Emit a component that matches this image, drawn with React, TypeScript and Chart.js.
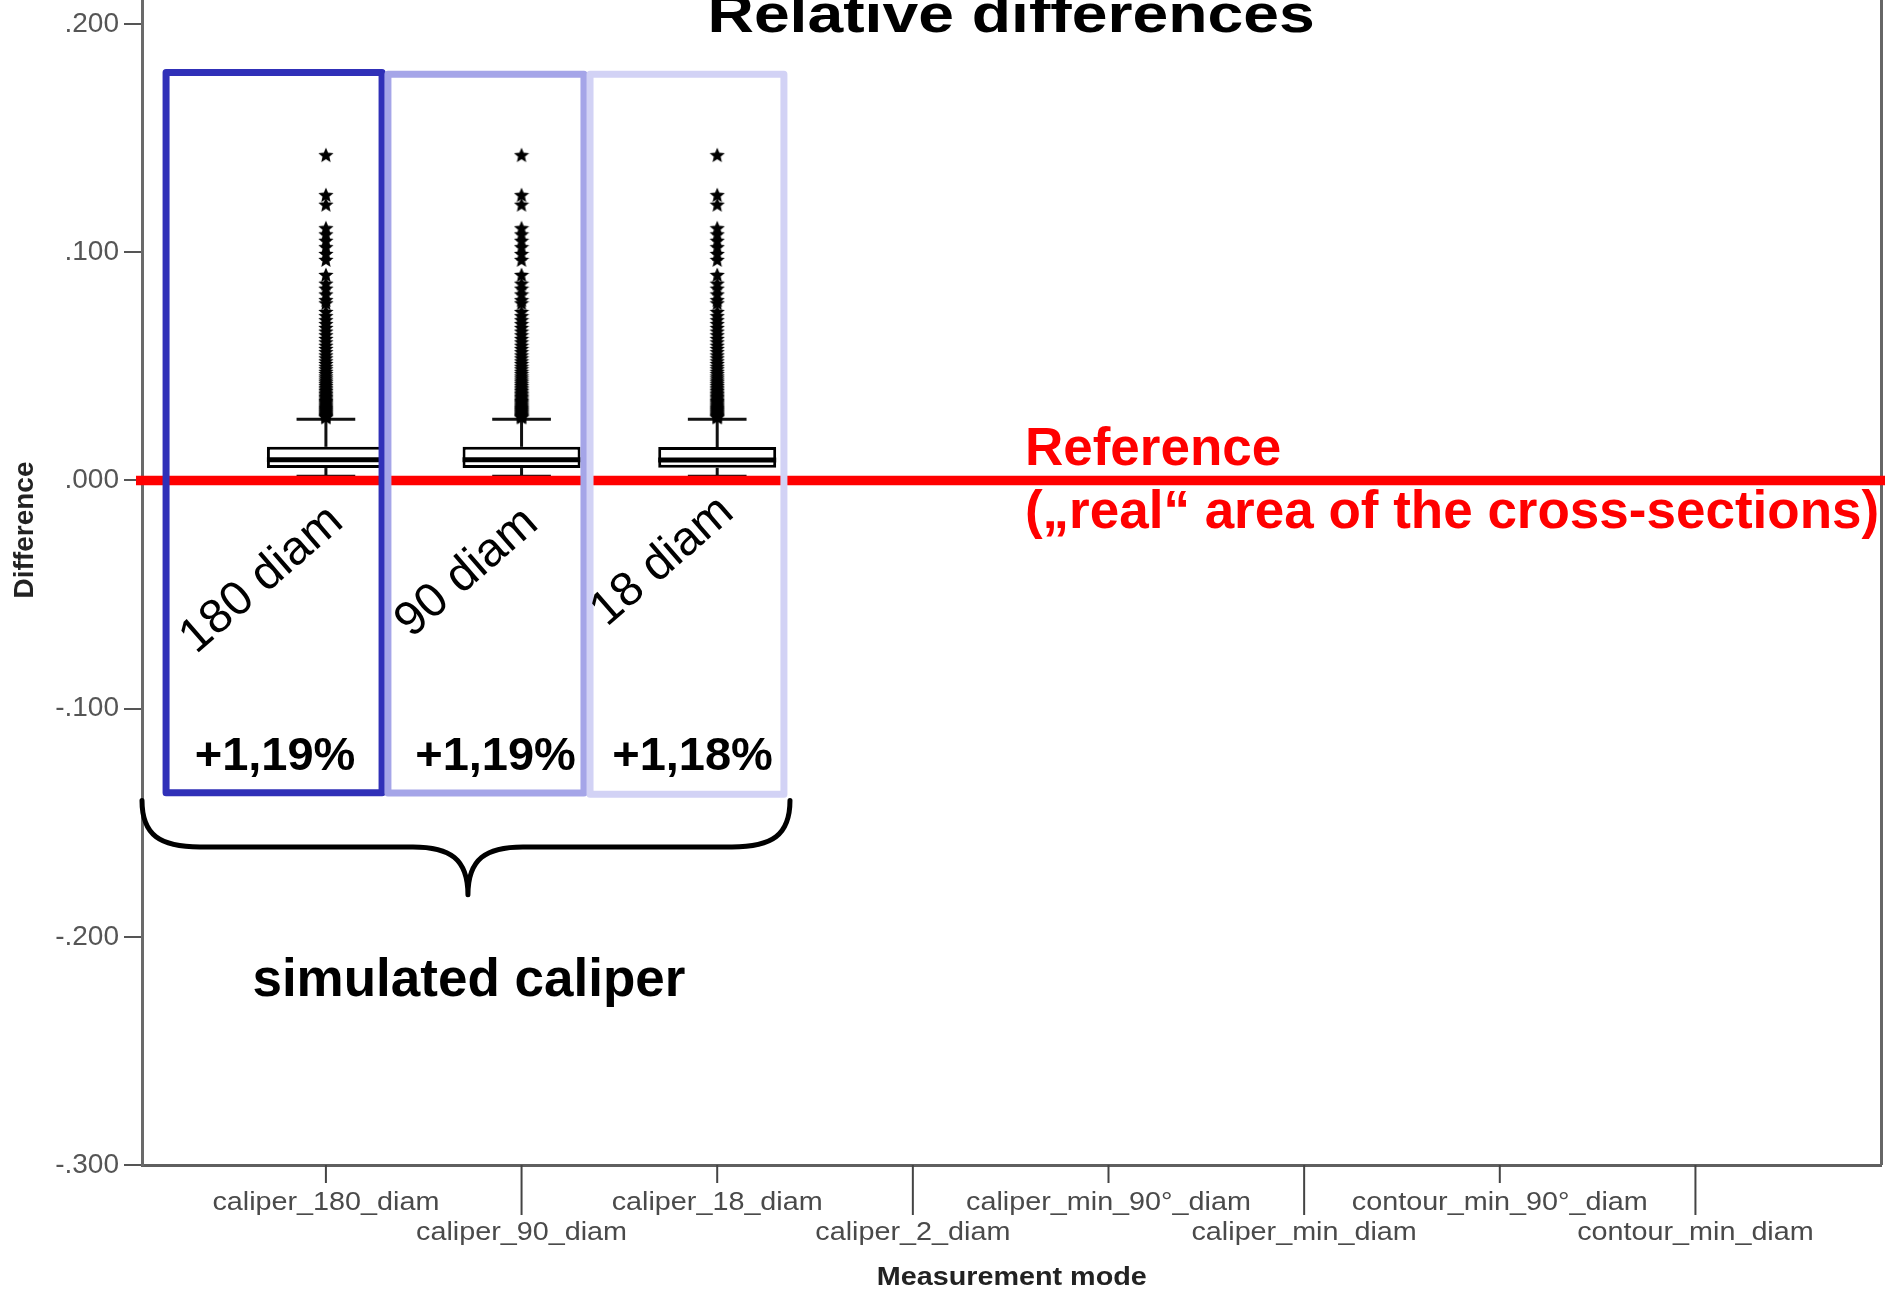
import React, { useEffect, useRef } from 'react';
import { Chart, registerables } from 'chart.js';

Chart.register(...registerables);

// ---------------- data ----------------
const categories = [
  'caliper_180_diam',
  'caliper_90_diam',
  'caliper_18_diam',
  'caliper_2_diam',
  'caliper_min_90°_diam',
  'caliper_min_diam',
  'contour_min_90°_diam',
  'contour_min_diam',
];
const yTickValues = [0.2, 0.1, 0, -0.1, -0.2, -0.3];

const boxQ1 = [0.0054, 0.0054, 0.0055];
const boxQ3 = [0.0147, 0.0147, 0.0146];
const boxMedian = [0.009, 0.009, 0.0089];
const whiskerLow = [0.0018, 0.0018, 0.0018];
const whiskerHigh = [0.0268, 0.0268, 0.0268];

const outliers180 = [
  0.1425, 0.125, 0.1208, 0.1105, 0.1078, 0.105, 0.1022, 0.0992, 0.0966, 0.09, 0.0862, 0.084, 0.0815,
  0.079, 0.0776, 0.0738, 0.072, 0.0702, 0.0685, 0.0668, 0.0652, 0.0636, 0.062, 0.0605, 0.059, 0.0576,
  0.0562, 0.0548, 0.0535, 0.0522, 0.051, 0.0498, 0.0487, 0.0476, 0.0466, 0.0456, 0.0447, 0.0438, 0.043,
  0.0422, 0.0414, 0.0406, 0.0399, 0.0392, 0.0385, 0.0378, 0.0372, 0.0366, 0.036, 0.0354, 0.0348, 0.0343,
  0.0338, 0.0333, 0.0328, 0.0323, 0.0318, 0.0314, 0.031, 0.0306, 0.0302, 0.0298, 0.0294, 0.029, 0.0286,
  0.0282, 0.0279, 0.0276,
];
const outliers90 = [
  0.1425, 0.125, 0.1208, 0.1105, 0.1078, 0.105, 0.1022, 0.0992, 0.0966, 0.09, 0.0862, 0.084, 0.0815,
  0.079, 0.0776, 0.0738, 0.072, 0.0702, 0.0685, 0.0668, 0.0652, 0.0636, 0.062, 0.0605, 0.059, 0.0576,
  0.0562, 0.0548, 0.0535, 0.0522, 0.051, 0.0498, 0.0487, 0.0476, 0.0466, 0.0456, 0.0447, 0.0438, 0.043,
  0.0422, 0.0414, 0.0406, 0.0399, 0.0392, 0.0385, 0.0378, 0.0372, 0.0366, 0.036, 0.0354, 0.0348, 0.0343,
  0.0338, 0.0333, 0.0328, 0.0323, 0.0318, 0.0314, 0.031, 0.0306, 0.0302, 0.0298, 0.0294, 0.029, 0.0286,
  0.0282, 0.0279, 0.0276,
];
const outliers18 = [
  0.1425, 0.125, 0.1208, 0.1105, 0.1078, 0.105, 0.1022, 0.0992, 0.0966, 0.09, 0.0862, 0.084, 0.0815,
  0.079, 0.0776, 0.0738, 0.072, 0.0702, 0.0685, 0.0668, 0.0652, 0.0636, 0.062, 0.0605, 0.059, 0.0576,
  0.0562, 0.0548, 0.0535, 0.0522, 0.051, 0.0498, 0.0487, 0.0476, 0.0466, 0.0456, 0.0447, 0.0438, 0.043,
  0.0422, 0.0414, 0.0406, 0.0399, 0.0392, 0.0385, 0.0378, 0.0372, 0.0366, 0.036, 0.0354, 0.0348, 0.0343,
  0.0338, 0.0333, 0.0328, 0.0323, 0.0318, 0.0314, 0.031, 0.0306, 0.0302, 0.0298, 0.0294, 0.029, 0.0286,
  0.0282, 0.0279, 0.0276,
];
const outlierSets = [outliers180, outliers90, outliers18];

const diamLabels = ['180 diam', '90 diam', '18 diam'];
const meanDiffLabels = ['+1,19%', '+1,19%', '+1,18%'];
const referenceValue = 0;
const chartTitle = 'Relative differences';
const yAxisTitle = 'Difference';
const xAxisTitle = 'Measurement mode';
const referenceLines = ['Reference', '(\u201Ereal\u201C area of the cross-sections)'];
const braceLabel = 'simulated caliper';

// ---------------- styles / annotation geometry (data units) ----------------
const SANS = '"Liberation Sans", Arial, Helvetica, sans-serif';
const SPSS_STRETCH = 1.15;
const TITLE_STRETCH = 1.19;
const frameRects = [
  { x0: -0.817, x1: 0.287, yTop: 0.1787, yBot: -0.1369, color: '#3030b8' },
  { x0: 0.317, x1: 1.319, yTop: 0.178, yBot: -0.137, color: '#a5a5e8' },
  { x0: 1.35, x1: 2.341, yTop: 0.178, yBot: -0.1375, color: '#d2d2f5' },
];
const diamPos = [
  { u: -0.327, v: -0.0436 },
  { u: 0.721, v: -0.0405 },
  { u: 1.721, v: -0.0356 },
];
const pctPos = [
  { u: -0.26, v: -0.1269 },
  { u: 0.867, v: -0.1269 },
  { u: 1.874, v: -0.1269 },
];
const brace = { x0: -0.94, x1: 2.372, tipX: 0.726, yTop: -0.1403, yMid: -0.1606, yTip: -0.1816 };
const braceLabelPos = { u: 0.731, v: -0.2258 };
const refTextPos = { u: 3.573, v1: 0.0067, v2: -0.0209 };
const titlePos = { u: 3.502, v: 0.1966 };

function makeStar(size: number) {
  const c = document.createElement('canvas');
  c.width = size;
  c.height = size;
  const g = c.getContext('2d')!;
  const r = size / 2;
  const ri = r * 0.45;
  g.beginPath();
  for (let k = 0; k < 10; k++) {
    const a = -Math.PI / 2 + (k * Math.PI) / 5;
    const rr = k % 2 === 0 ? r : ri;
    g.lineTo(r + rr * Math.cos(a), r + 0.5 + rr * Math.sin(a));
  }
  g.closePath();
  g.fillStyle = '#000';
  g.fill();
  return c;
}

function drawText(
  ctx: CanvasRenderingContext2D,
  text: string,
  x: number,
  y: number,
  font: string,
  color: string,
  align: CanvasTextAlign,
  baseline: CanvasTextBaseline = 'alphabetic',
  rotation = 0,
  sx = 1,
  sy = 1
) {
  ctx.save();
  ctx.translate(x, y);
  if (rotation) ctx.rotate(rotation);
  ctx.scale(sx, sy);
  ctx.font = font;
  ctx.fillStyle = color;
  ctx.textAlign = align;
  ctx.textBaseline = baseline;
  ctx.fillText(text, 0, 0);
  ctx.restore();
}

const boxPlugin = {
  id: 'boxParts',
  beforeDatasetsDraw(chart: any) {
    const { ctx, scales } = chart;
    const x = scales.x;
    const y = scales.y;
    const step = x.getPixelForValue(1) - x.getPixelForValue(0);
    const capHalf = step * 0.15;
    ctx.save();
    ctx.strokeStyle = '#111';
    ctx.lineWidth = 3;
    boxQ1.forEach((q1, i) => {
      const cx = x.getPixelForValue(i);
      const segs = [
        [cx, y.getPixelForValue(boxQ3[i]), cx, y.getPixelForValue(whiskerHigh[i])],
        [cx - capHalf, y.getPixelForValue(whiskerHigh[i]), cx + capHalf, y.getPixelForValue(whiskerHigh[i])],
        [cx, y.getPixelForValue(q1), cx, y.getPixelForValue(whiskerLow[i])],
        [cx - capHalf, y.getPixelForValue(whiskerLow[i]), cx + capHalf, y.getPixelForValue(whiskerLow[i])],
      ];
      segs.forEach(([a, b, c, d]) => {
        ctx.beginPath();
        ctx.moveTo(a, b);
        ctx.lineTo(c, d);
        ctx.stroke();
      });
    });
    ctx.restore();
  },
  afterDatasetsDraw(chart: any) {
    const { ctx, scales } = chart;
    const x = scales.x;
    const y = scales.y;
    const step = x.getPixelForValue(1) - x.getPixelForValue(0);
    const half = step * 0.3015;
    ctx.save();
    ctx.strokeStyle = '#000';
    ctx.lineWidth = 5;
    boxMedian.forEach((m, i) => {
      const cx = x.getPixelForValue(i);
      const py = y.getPixelForValue(m);
      ctx.beginPath();
      ctx.moveTo(cx - half, py);
      ctx.lineTo(cx + half, py);
      ctx.stroke();
    });
    ctx.restore();
  },
  afterDraw(chart: any) {
    const { ctx, scales, chartArea } = chart;
    const x = scales.x;
    const y = scales.y;
    const X = (u: number) => x.getPixelForValue(u);
    const Y = (v: number) => y.getPixelForValue(v);
    ctx.save();

    // right frame line
    ctx.strokeStyle = '#666';
    ctx.lineWidth = 3;
    ctx.beginPath();
    ctx.moveTo(chartArea.right, chartArea.top);
    ctx.lineTo(chartArea.right, chartArea.bottom);
    ctx.stroke();

    // x tick marks (alternating lengths) and labels
    ctx.strokeStyle = '#444';
    ctx.lineWidth = 2;
    categories.forEach((lab, i) => {
      const px = X(i);
      const long = i % 2 === 1;
      ctx.beginPath();
      ctx.moveTo(px, chartArea.bottom);
      ctx.lineTo(px, chartArea.bottom + (long ? 50 : 18));
      ctx.stroke();
      drawText(ctx, lab, px, chartArea.bottom + (long ? 75 : 45), `25px ${SANS}`, '#4a4a4a', 'center', 'alphabetic', 0, SPSS_STRETCH, 1);
    });

    // axis titles
    drawText(ctx, xAxisTitle, (chartArea.left + chartArea.right) / 2, chartArea.bottom + 120, `bold 25px ${SANS}`, '#222', 'center', 'alphabetic', 0, SPSS_STRETCH, 1);
    drawText(ctx, yAxisTitle, 25, 530, `bold 28px ${SANS}`, '#222', 'center', 'middle', -Math.PI / 2, 1, SPSS_STRETCH * 0.85);

    // chart title (partly cut at top)
    drawText(ctx, chartTitle, X(titlePos.u), Y(titlePos.v), `bold 54px ${SANS}`, '#000', 'center', 'alphabetic', 0, TITLE_STRETCH, 1);

    // reference line
    ctx.strokeStyle = '#ff0000';
    ctx.lineWidth = 9.5;
    ctx.beginPath();
    ctx.moveTo(chartArea.left - 6, Y(referenceValue));
    ctx.lineTo(chart.width, Y(referenceValue));
    ctx.stroke();

    // frames around the simulated caliper boxes
    ctx.lineJoin = 'round';
    frameRects.forEach((r) => {
      ctx.strokeStyle = r.color;
      ctx.lineWidth = 7;
      ctx.beginPath();
      ctx.rect(X(r.x0), Y(r.yTop), X(r.x1) - X(r.x0), Y(r.yBot) - Y(r.yTop));
      ctx.stroke();
    });

    // rotated diam labels
    diamLabels.forEach((t, i) => {
      drawText(ctx, t, X(diamPos[i].u), Y(diamPos[i].v), `48px ${SANS}`, '#000', 'center', 'middle', (-41 * Math.PI) / 180);
    });
    // percent labels
    meanDiffLabels.forEach((t, i) => {
      drawText(ctx, t, X(pctPos[i].u), Y(pctPos[i].v), `bold 47px ${SANS}`, '#000', 'center', 'alphabetic');
    });

    // brace
    const bx0 = X(brace.x0);
    const bx1 = X(brace.x1);
    const tx = X(brace.tipX);
    const yt = Y(brace.yTop);
    const ym = Y(brace.yMid);
    const yp = Y(brace.yTip);
    const dy = ym - yt;
    ctx.strokeStyle = '#000';
    ctx.lineWidth = 5;
    ctx.lineJoin = 'round';
    ctx.lineCap = 'round';
    ctx.beginPath();
    ctx.moveTo(bx0, yt);
    ctx.bezierCurveTo(bx0, yt + dy * 0.75, bx0 + 18, ym, bx0 + 58, ym);
    ctx.lineTo(tx - 55, ym);
    ctx.bezierCurveTo(tx - 18, ym, tx, ym + 12, tx, yp);
    ctx.bezierCurveTo(tx, ym + 12, tx + 18, ym, tx + 55, ym);
    ctx.lineTo(bx1 - 58, ym);
    ctx.bezierCurveTo(bx1 - 18, ym, bx1, yt + dy * 0.75, bx1, yt);
    ctx.stroke();

    drawText(ctx, braceLabel, X(braceLabelPos.u), Y(braceLabelPos.v), `bold 53px ${SANS}`, '#000', 'center', 'alphabetic');

    // reference text
    drawText(ctx, referenceLines[0], X(refTextPos.u), Y(refTextPos.v1), `bold 53px ${SANS}`, '#ff0000', 'left', 'alphabetic');
    drawText(ctx, referenceLines[1], X(refTextPos.u), Y(refTextPos.v2), `bold 53px ${SANS}`, '#ff0000', 'left', 'alphabetic');

    ctx.restore();
  },
};

export default function App() {
  const ref = useRef<HTMLCanvasElement>(null);
  useEffect(() => {
    const star = makeStar(16);
    const boxData = boxQ1.map((q1, i) => ({ x: i, y: [q1, boxQ3[i]] }));
    const outlierDatasets = outlierSets.map((vals, i) => ({
      type: 'scatter' as const,
      label: 'outliers ' + categories[i],
      data: vals.map((v) => ({ x: i, y: v })),
      pointStyle: star,
      pointRadius: 8,
      pointHoverRadius: 8,
    }));
    const chart = new Chart(ref.current!, {
      type: 'bar',
      data: {
        datasets: [
          {
            type: 'bar',
            label: 'box',
            data: boxData as any,
            backgroundColor: '#ffffff',
            borderColor: '#000000',
            borderWidth: 3,
            borderSkipped: false,
            categoryPercentage: 1,
            barPercentage: 0.603,
          } as any,
          ...outlierDatasets,
        ],
      },
      options: {
        responsive: false,
        animation: false,
        devicePixelRatio: 1,
        layout: { autoPadding: false, padding: { left: 0, right: 3.5, top: 0, bottom: 0 } },
        plugins: { legend: { display: false }, tooltip: { enabled: false }, title: { display: false } },
        scales: {
          x: {
            type: 'linear',
            offset: false,
            min: -0.94,
            max: 7.951,
            afterBuildTicks: (axis: any) => {
              axis.ticks = categories.map((_, i) => ({ value: i }));
            },
            afterFit: (s: any) => {
              s.height = 126;
              s.paddingLeft = 0;
              s.paddingRight = 0;
            },
            ticks: { display: false },
            grid: { display: false },
            border: { display: true, color: '#5f5f5f', width: 3 },
          },
          y: {
            type: 'linear',
            min: -0.3,
            max: 0.2105,
            afterBuildTicks: (axis: any) => {
              axis.ticks = yTickValues.map((v) => ({ value: v }));
            },
            afterFit: (s: any) => {
              s.width = 142;
              s.paddingTop = 0;
              s.paddingBottom = 0;
            },
            ticks: {
              padding: 5,
              color: '#555',
              font: { family: SANS, size: 28 },
              callback: (v: any) => {
                const n = Number(v);
                const s = Math.abs(n).toFixed(3).replace(/^0/, '');
                return (n < -1e-9 ? '-' : '') + s;
              },
            },
            grid: { display: true, drawOnChartArea: false, tickLength: 18, color: '#555', lineWidth: 2 },
            border: { display: true, color: '#6a6a6a', width: 3 },
          },
        },
      },
      plugins: [boxPlugin],
    } as any);
    return () => chart.destroy();
  }, []);
  return (
    <div style={{ position: 'fixed', left: 0, top: 0, width: 1885, height: 1291, background: '#fff' }}>
      <canvas ref={ref} width={1885} height={1291} style={{ display: 'block', width: 1885, height: 1291 }} />
    </div>
  );
}
